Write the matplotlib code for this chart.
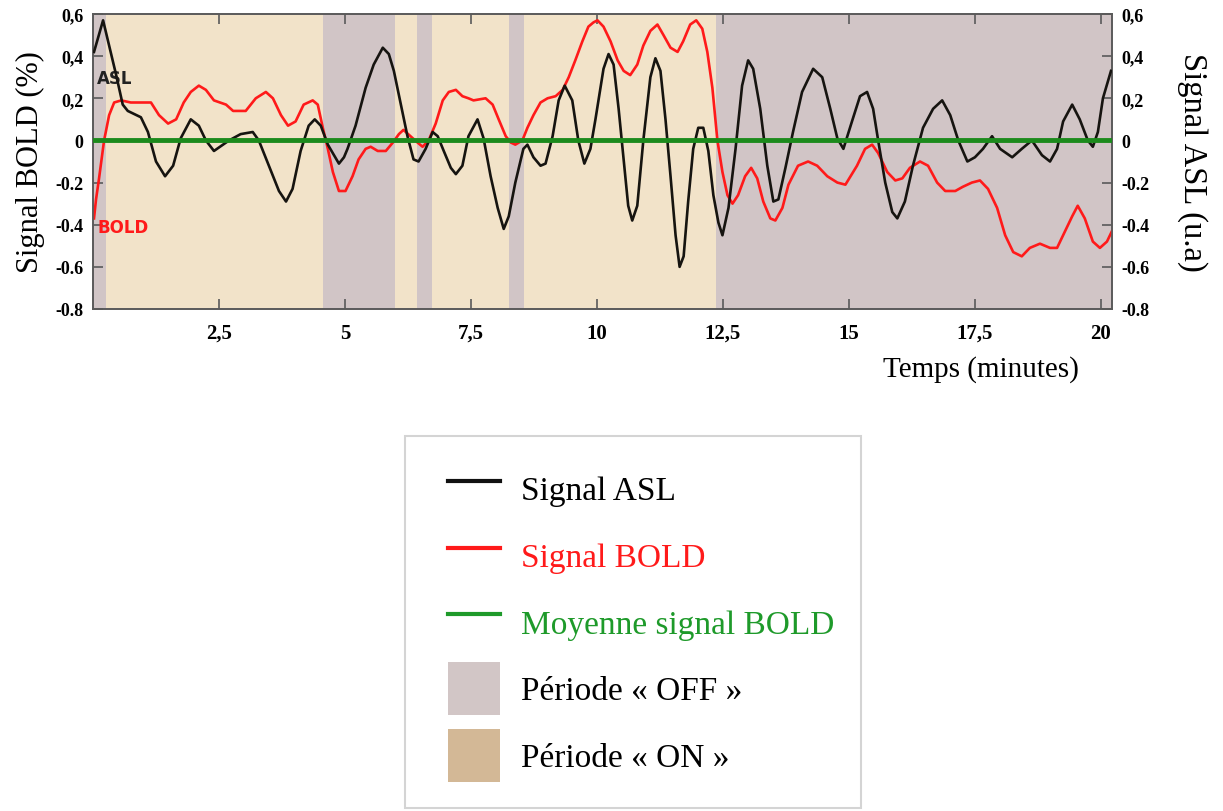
import matplotlib
matplotlib.use("Agg")
import matplotlib.pyplot as plt
from matplotlib.lines import Line2D
from matplotlib.patches import Patch
from matplotlib.legend_handler import HandlerLine2D, HandlerPatch

# ---------------- data ----------------
asl_t = [0.02, 0.20, 0.46, 0.59, 0.69, 0.95, 1.09, 1.25, 1.43, 1.59, 1.74, 1.94, 2.10, 2.24, 2.40,
         2.70, 2.93, 3.17, 3.29, 3.49, 3.69, 3.83, 3.96, 4.12, 4.28, 4.40, 4.52, 4.66, 4.88, 4.98,
         5.05, 5.21, 5.41, 5.57, 5.75, 5.87, 5.97, 6.11, 6.24, 6.36, 6.46, 6.60, 6.74, 6.84, 6.96,
         7.10, 7.20, 7.33, 7.45, 7.63, 7.75, 7.89, 8.03, 8.15, 8.25, 8.38, 8.54, 8.62, 8.74, 8.88,
         8.98, 9.12, 9.24, 9.36, 9.51, 9.63, 9.75, 9.87, 9.97, 10.13, 10.23, 10.33, 10.43, 10.53,
         10.62, 10.70, 10.80, 10.92, 11.06, 11.16, 11.26, 11.36, 11.46, 11.56, 11.64, 11.72, 11.81,
         11.91, 12.01, 12.11, 12.21, 12.31, 12.41, 12.49, 12.61, 12.75, 12.88, 13.00, 13.10, 13.24,
         13.38, 13.50, 13.60, 13.74, 13.89, 14.07, 14.29, 14.47, 14.63, 14.77, 14.89, 15.06, 15.22,
         15.36, 15.48, 15.58, 15.72, 15.86, 15.96, 16.11, 16.27, 16.47, 16.67, 16.85, 17.01, 17.17,
         17.35, 17.50, 17.66, 17.84, 18.00, 18.24, 18.43, 18.63, 18.83, 18.99, 19.13, 19.25, 19.43,
         19.58, 19.74, 19.84, 19.94, 20.04, 20.20]
asl_v = [0.42, 0.57, 0.31, 0.17, 0.14, 0.11, 0.04, -0.10, -0.17, -0.12, 0.01, 0.10, 0.07, 0.00, -0.05,
         0.00, 0.03, 0.04, 0.00, -0.12, -0.24, -0.29, -0.23, -0.05, 0.07, 0.10, 0.07, -0.02, -0.11, -0.08,
         -0.04, 0.07, 0.25, 0.36, 0.44, 0.41, 0.33, 0.17, 0.02, -0.09, -0.10, -0.04, 0.04, 0.02, -0.05,
         -0.13, -0.16, -0.12, 0.02, 0.10, 0.01, -0.17, -0.32, -0.42, -0.36, -0.20, -0.04, -0.02, -0.08, -0.12,
         -0.11, 0.02, 0.19, 0.26, 0.19, 0.00, -0.11, -0.04, 0.10, 0.34, 0.41, 0.36, 0.15, -0.09,
         -0.31, -0.38, -0.31, 0.00, 0.30, 0.39, 0.33, 0.10, -0.17, -0.45, -0.60, -0.55, -0.29,
         -0.04, 0.06, 0.06, -0.05, -0.26, -0.39, -0.45, -0.32, -0.04, 0.26, 0.38, 0.34, 0.15,
         -0.12, -0.29, -0.28, -0.13, 0.04, 0.23, 0.34, 0.30, 0.15, 0.01, -0.04, 0.09, 0.21,
         0.23, 0.15, 0.00, -0.20, -0.34, -0.37, -0.29, -0.12, 0.06, 0.15, 0.19, 0.12, 0.00,
         -0.10, -0.08, -0.04, 0.02, -0.04, -0.08, -0.04, 0.00, -0.07, -0.10, -0.04, 0.09, 0.17,
         0.10, 0.00, -0.03, 0.04, 0.20, 0.33]

bold_t = [0.02, 0.06, 0.12, 0.22, 0.32, 0.42, 0.56, 0.75, 0.95, 1.15, 1.31, 1.49, 1.65, 1.80, 1.94,
          2.10, 2.24, 2.40, 2.64, 2.78, 3.03, 3.23, 3.43, 3.57, 3.73, 3.87, 4.02, 4.18, 4.36, 4.46,
          4.56, 4.66, 4.76, 4.88, 5.01, 5.15, 5.27, 5.41, 5.51, 5.65, 5.81, 5.95, 6.07, 6.16, 6.30,
          6.44, 6.54, 6.66, 6.80, 6.94, 7.06, 7.20, 7.33, 7.45, 7.55, 7.79, 7.93, 8.05, 8.19, 8.29,
          8.38, 8.52, 8.62, 8.74, 8.88, 9.02, 9.18, 9.32, 9.44, 9.57, 9.71, 9.83, 9.93, 10.01, 10.13,
          10.27, 10.41, 10.53, 10.66, 10.80, 10.92, 11.06, 11.20, 11.32, 11.46, 11.60, 11.71, 11.85,
          11.97, 12.09, 12.19, 12.29, 12.39, 12.49, 12.59, 12.69, 12.80, 12.94, 13.06, 13.18, 13.30,
          13.44, 13.54, 13.68, 13.80, 13.99, 14.19, 14.37, 14.57, 14.77, 14.93, 15.16, 15.32, 15.46,
          15.58, 15.76, 15.92, 16.06, 16.21, 16.41, 16.57, 16.75, 16.91, 17.11, 17.26, 17.44, 17.60,
          17.76, 17.94, 18.10, 18.26, 18.43, 18.59, 18.79, 18.99, 19.13, 19.25, 19.43, 19.54, 19.68,
          19.84, 19.98, 20.12, 20.22]
bold_v = [-0.37, -0.28, -0.18, 0.00, 0.12, 0.18, 0.19, 0.18, 0.18, 0.18, 0.12, 0.08, 0.10, 0.18, 0.23,
          0.26, 0.24, 0.19, 0.17, 0.14, 0.14, 0.20, 0.23, 0.20, 0.12, 0.07, 0.09, 0.17, 0.19, 0.17,
          0.06, -0.04, -0.15, -0.24, -0.24, -0.17, -0.09, -0.04, -0.03, -0.05, -0.05, -0.01, 0.03, 0.05, 0.02,
          -0.01, -0.03, 0.00, 0.08, 0.19, 0.23, 0.24, 0.21, 0.20, 0.19, 0.20, 0.17, 0.10, 0.02, -0.01,
          -0.02, 0.00, 0.06, 0.12, 0.18, 0.20, 0.21, 0.24, 0.30, 0.38, 0.47, 0.54, 0.56, 0.57, 0.54,
          0.47, 0.38, 0.33, 0.31, 0.36, 0.45, 0.52, 0.55, 0.50, 0.44, 0.42, 0.47, 0.55,
          0.57, 0.53, 0.42, 0.25, 0.00, -0.15, -0.26, -0.30, -0.26, -0.17, -0.13, -0.18, -0.29,
          -0.37, -0.38, -0.32, -0.21, -0.12, -0.10, -0.12, -0.17, -0.20, -0.21, -0.12, -0.04, -0.02,
          -0.06, -0.15, -0.19, -0.18, -0.13, -0.10, -0.12, -0.20, -0.24, -0.24, -0.22, -0.20, -0.19,
          -0.23, -0.32, -0.45, -0.53, -0.55, -0.51, -0.49, -0.51, -0.51, -0.45, -0.36, -0.31, -0.37,
          -0.48, -0.51, -0.48, -0.43]

bold_mean = 0.0

period_start = [0.0, 0.26, 4.56, 5.99, 6.42, 6.72, 8.25, 8.56, 12.37]
period_end = [0.26, 4.56, 5.99, 6.42, 6.72, 8.25, 8.56, 12.37, 20.3]
period_state = ["OFF", "ON", "OFF", "ON", "OFF", "ON", "OFF", "ON", "OFF"]

x_ticks = [2.5, 5, 7.5, 10, 12.5, 15, 17.5, 20]
x_tick_labels = ["2,5", "5", "7,5", "10", "12,5", "15", "17,5", "20"]
y_ticks = [-0.8, -0.6, -0.4, -0.2, 0.0, 0.2, 0.4, 0.6]
y_tick_labels = ["-0.8", "-0.6", "-0.4", "-0.2", "0", "0,2", "0,4", "0,6"]

legend_labels = ["Signal ASL", "Signal BOLD", "Moyenne signal BOLD",
                 "Période « OFF »", "Période « ON »"]

# ---------------- style ----------------
C_ON = "#f2e3c9"
C_OFF = "#d1c5c6"
C_ASL = "#161410"
C_BOLD = "#ff1a1a"
C_MEAN = "#1c8a1c"
SERIF = "Liberation Serif"
SPINE = "#5a5a5a"

fig = plt.figure(figsize=(12.23, 8.12), dpi=100)
ax = fig.add_axes([93 / 1223, 1 - 310 / 812, (1112 - 93) / 1223, 295 / 812])

for s, e, st in zip(period_start, period_end, period_state):
    ax.axvspan(s, e, color=C_ON if st == "ON" else C_OFF, lw=0, zorder=0)

ax.plot(bold_t, bold_v, color=C_BOLD, lw=1.9, zorder=3)
ax.set_xlim(0, 20.22)
ax.set_ylim(-0.8, 0.6)

ax2 = ax.twinx()
ax2.set_ylim(-0.8, 0.6)
ax2.plot(asl_t, asl_v, color=C_ASL, lw=1.9, zorder=3)
ax2.axhline(bold_mean, color=C_MEAN, lw=3.5, zorder=4)

ax.set_xticks(x_ticks)
ax.set_xticklabels(x_tick_labels, fontsize=15, fontweight="bold", family=SERIF)
ax.set_yticks(y_ticks)
ax.set_yticklabels(y_tick_labels, fontsize=13, fontweight="bold", family=SERIF)
ax2.set_yticks(y_ticks)
ax2.set_yticklabels(y_tick_labels, fontsize=13, fontweight="bold", family=SERIF)

ax.tick_params(axis="x", direction="in", length=7, width=1.2, color=SPINE,
               top=True, bottom=True, pad=10)
ax.tick_params(axis="y", direction="in", length=7, width=1.2, color=SPINE, pad=7)
ax2.tick_params(axis="y", direction="in", length=7, width=1.2, color=SPINE, pad=7)

for a in (ax, ax2):
    for sp in a.spines.values():
        sp.set_color(SPINE)
        sp.set_linewidth(1.2)

ax.set_ylabel("Signal BOLD (%)", fontsize=22, family=SERIF, labelpad=7)
ax2.set_ylabel("Signal ASL (u.a)", fontsize=23.5, family=SERIF, rotation=270, labelpad=42)
ax.set_xlabel("Temps (minutes)", fontsize=21, family=SERIF)
ax.xaxis.set_label_coords(0.871, -0.155)

ax.text(0.08, 0.295, "ASL", fontsize=12, fontweight="bold", color="#222222",
        va="center", ha="left", zorder=5)
ax.text(0.08, -0.41, "BOLD", fontsize=12, fontweight="bold", color=C_BOLD,
        va="center", ha="left", zorder=5)

# ---------------- legend ----------------
handles = [Line2D([], [], color="#111111", lw=3),
           Line2D([], [], color=C_BOLD, lw=3),
           Line2D([], [], color="#1e9a2a", lw=3),
           Patch(facecolor="#d2c6c6", edgecolor="none"),
           Patch(facecolor="#d3b896", edgecolor="none")]
leg = fig.legend(handles, legend_labels, loc="upper left",
                 bbox_to_anchor=(405 / 1223, 1 - 437 / 812), borderaxespad=0,
                 prop={"family": SERIF, "size": 24},
                 labelcolor=["black", C_BOLD, "#1e9a2a", "black", "black"],
                 handlelength=2.05, handleheight=2.05, handletextpad=0.62,
                 labelspacing=0.42, borderpad=0.8, fancybox=False, framealpha=1,
                 edgecolor="#d4d4d4",
                 handler_map={Line2D: HandlerLine2D(xpad=0.48),
                              Patch: HandlerPatch(xpad=0.48)})
leg.get_frame().set_linewidth(1.5)

fig.savefig("out.png", dpi=100)
